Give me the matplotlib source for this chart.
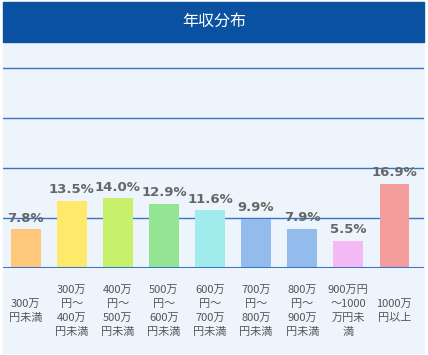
import matplotlib.pyplot as plt
from matplotlib.patches import Rectangle
from matplotlib.transforms import blended_transform_factory

plt.rcParams["font.family"] = ["Noto Sans CJK JP", "DejaVu Sans"]

# ================== DATA ==================
TITLE = "年収分布"
categories = [
    "300万\n円未満",
    "300万\n円～\n400万\n円未満",
    "400万\n円～\n500万\n円未満",
    "500万\n円～\n600万\n円未満",
    "600万\n円～\n700万\n円未満",
    "700万\n円～\n800万\n円未満",
    "800万\n円～\n900万\n円未満",
    "900万円\n～1000\n万円未\n満",
    "1000万\n円以上",
]
shares = [7.8, 13.5, 14.0, 12.9, 11.6, 9.9, 7.9, 5.5, 16.9]
bar_colors = ["#FFC77A", "#FFE96B", "#C7F06B", "#93E593", "#A0ECEC",
              "#93BBEC", "#93BBEC", "#F5B9F5", "#F59D9D"]
gridlines = [10, 20, 30, 40]

# ================== STYLE ==================
W, H = 428, 355
PANEL_BG = "#EDF4FC"
HEADER_BG = "#0A52A1"
GRID_COLOR = "#3A74C2"

fig = plt.figure(figsize=(W / 100, H / 100), dpi=100)
fig.patch.set_facecolor("white")

# header band and panel background (figure pixel coords -> fraction)
fig.patches.append(Rectangle((3 / W, (H - 353) / H), 421 / W, 311 / H,
                             transform=fig.transFigure, color=PANEL_BG, zorder=-10))
fig.patches.append(Rectangle((3 / W, (H - 42) / H), 421 / W, 40 / H,
                             transform=fig.transFigure, color=HEADER_BG, zorder=-10))
fig.text(0.5, (H - 21) / H, TITLE, color="white", fontsize=11.5,
         ha="center", va="center")

ax = fig.add_axes([3 / W, (H - 268) / H, 421 / W, 225 / H])
ax.set_facecolor("none")
ax.set_zorder(5)

step = 46.6
xs = list(range(len(shares)))
ax.bar(xs, shares, width=30 / step, color=bar_colors, zorder=2)

for y in gridlines:
    ax.axhline(y, color=GRID_COLOR, linewidth=1.0, zorder=1)
ax.axhline(0, color=GRID_COLOR, linewidth=2.2, zorder=3)

for x, v in zip(xs, shares):
    ax.annotate(f"{v:.1f}%", (x, v), textcoords="offset points", xytext=(0, 3),
                ha="center", va="bottom", fontsize=9.5, fontweight="bold",
                color="#666666", family="DejaVu Sans")

trans = blended_transform_factory(ax.transData, fig.transFigure)
for x, lab in zip(xs, categories):
    ax.text(x, (H - 311) / H, lab, transform=trans, ha="center", va="center",
            fontsize=8, color="#555555", linespacing=1.52, clip_on=False)

ax.set_xlim(-23 / step, 8 + 30 / step)
ax.set_ylim(0, 45)
ax.set_xticks([])
ax.set_yticks([])
for s in ax.spines.values():
    s.set_visible(False)

plt.savefig("out.png", dpi=100)
